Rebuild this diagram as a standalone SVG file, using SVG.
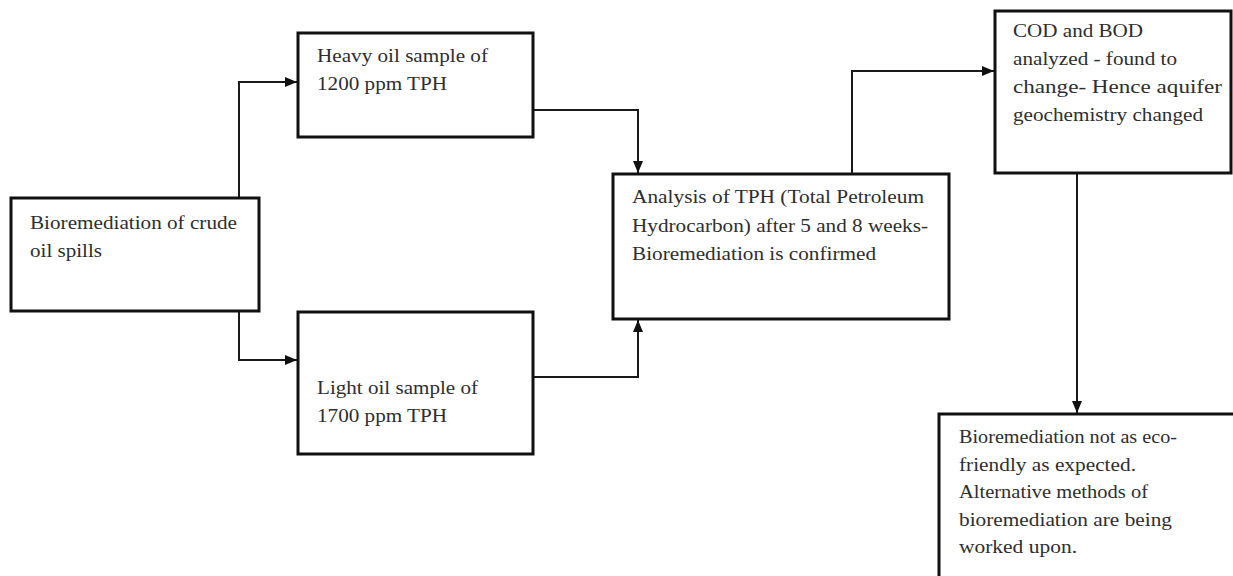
<svg xmlns="http://www.w3.org/2000/svg" width="1233" height="576" viewBox="0 0 1233 576">
<style>
.box{fill:#fff;stroke:#111;stroke-width:3}
.t{font-family:'Liberation Serif','DejaVu Serif','Times New Roman',Times,serif;font-size:18px;fill:#2e2e2e}
.c{fill:none;stroke:#1a1a1a;stroke-width:2}
</style>
<defs>
<marker id="ah" viewBox="0 0 12 10" refX="12" refY="5" markerWidth="12" markerHeight="10" markerUnits="userSpaceOnUse" orient="auto">
<path d="M0,0 L12,5 L0,10 z" fill="#111"/>
</marker>
</defs>
<rect width="1233" height="576" fill="#fff"/>
<g id="connectors">
<path class="c" d="M239,198 V82 H297" marker-end="url(#ah)"/>
<path class="c" d="M239,311 V360 H297" marker-end="url(#ah)"/>
<path class="c" d="M533,110 H638 V173" marker-end="url(#ah)"/>
<path class="c" d="M533,377 H638 V320" marker-end="url(#ah)"/>
<path class="c" d="M852,174 V71 H994" marker-end="url(#ah)"/>
<path class="c" d="M1077,173 V413" marker-end="url(#ah)"/>
</g>
<g id="n1">
<rect class="box" x="11" y="198" width="248" height="113"/>
<text class="t" x="30" y="229" textLength="207" lengthAdjust="spacingAndGlyphs">Bioremediation of crude</text>
<text class="t" x="30" y="257" textLength="72" lengthAdjust="spacingAndGlyphs">oil spills</text>
</g>
<g id="n2">
<rect class="box" x="298" y="33" width="235" height="104"/>
<text class="t" x="317" y="62" textLength="171" lengthAdjust="spacingAndGlyphs">Heavy oil sample of</text>
<text class="t" x="317" y="90" textLength="130" lengthAdjust="spacingAndGlyphs">1200 ppm TPH</text>
</g>
<g id="n3">
<rect class="box" x="298" y="312" width="235" height="142"/>
<text class="t" x="317" y="394" textLength="161" lengthAdjust="spacingAndGlyphs">Light oil sample of</text>
<text class="t" x="317" y="422" textLength="130" lengthAdjust="spacingAndGlyphs">1700 ppm TPH</text>
</g>
<g id="n4">
<rect class="box" x="613" y="174" width="336" height="145"/>
<text class="t" x="632" y="203" textLength="292" lengthAdjust="spacingAndGlyphs">Analysis of TPH (Total Petroleum</text>
<text class="t" x="632" y="232" textLength="296" lengthAdjust="spacingAndGlyphs">Hydrocarbon) after 5 and 8 weeks-</text>
<text class="t" x="632" y="260" textLength="244" lengthAdjust="spacingAndGlyphs">Bioremediation is confirmed</text>
</g>
<g id="n5">
<rect class="box" x="995" y="11" width="236" height="162"/>
<text class="t" x="1013" y="37" textLength="130" lengthAdjust="spacingAndGlyphs">COD and BOD</text>
<text class="t" x="1013" y="65" textLength="164" lengthAdjust="spacingAndGlyphs">analyzed - found to</text>
<text class="t" x="1013" y="93" textLength="209" lengthAdjust="spacingAndGlyphs">change- Hence aquifer</text>
<text class="t" x="1013" y="121" textLength="190" lengthAdjust="spacingAndGlyphs">geochemistry changed</text>
</g>
<g id="n6">
<rect class="box" x="939" y="414" width="310" height="180"/>
<text class="t" x="959" y="443" textLength="218" lengthAdjust="spacingAndGlyphs">Bioremediation not as eco-</text>
<text class="t" x="959" y="471" textLength="177" lengthAdjust="spacingAndGlyphs">friendly as expected.</text>
<text class="t" x="959" y="498" textLength="189" lengthAdjust="spacingAndGlyphs">Alternative methods of</text>
<text class="t" x="959" y="526" textLength="213" lengthAdjust="spacingAndGlyphs">bioremediation are being</text>
<text class="t" x="959" y="553" textLength="118" lengthAdjust="spacingAndGlyphs">worked upon.</text>
</g>
</svg>
